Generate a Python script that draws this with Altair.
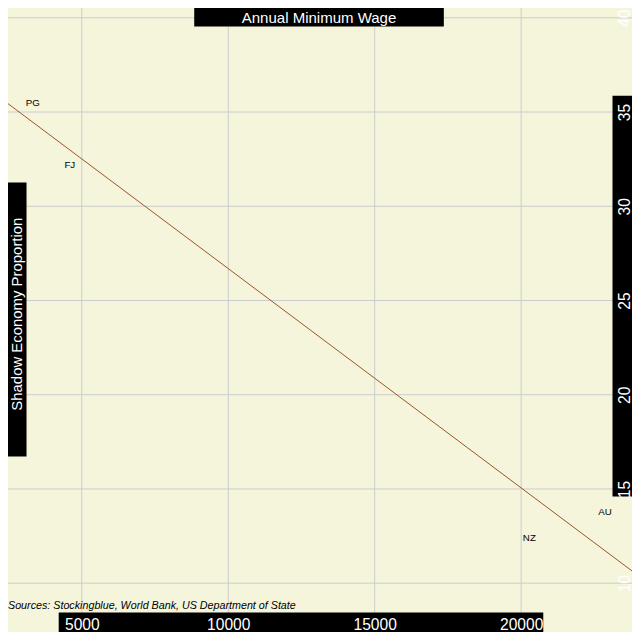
import altair as alt
import pandas as pd

# ---- data ----
countries = ["PG", "FJ", "NZ", "AU"]
annual_min_wage = [3330, 4590, 20280, 22860]
shadow_economy = [35.5, 32.2, 12.4, 13.8]
x_tick_values = [5000, 10000, 15000, 20000]
y_tick_values = [10, 15, 20, 25, 30, 35, 40]

df = pd.DataFrame({"country": countries, "wage": annual_min_wage, "shadow": shadow_economy})
xgrid = pd.DataFrame({"v": x_tick_values})
ygrid = pd.DataFrame({"v": y_tick_values})
one = pd.DataFrame({"k": [0]})

X_DOMAIN = [2480, 23785]
Y_DOMAIN = [7.41, 40.52]
xs = alt.Scale(domain=X_DOMAIN, nice=False, zero=False)
ys = alt.Scale(domain=Y_DOMAIN, nice=False, zero=False)

FONT = "Liberation Sans"
W = H = 624
S = W / 640.0
GRID = "#cccccc"

x_axis = alt.Axis(values=x_tick_values, format="d", title=None, grid=False, domain=False,
                  ticks=False, tickSize=0, labelColor="white", labelFont=FONT,
                  labelFontSize=16 * S, labelBaseline="alphabetic", labelAlign="center",
                  labelPadding=0, offset=-3 * S, labelFlush=False, labelOverlap=False, zindex=1)
y_axis = alt.Axis(orient="right", values=y_tick_values, title=None, grid=False, domain=False,
                  ticks=False, tickSize=0, labelColor="white", labelFont=FONT,
                  labelFontSize=16 * S, labelAngle=270, labelAlign="center",
                  labelBaseline="alphabetic", labelPadding=0, offset=-3 * S,
                  labelFlush=False, labelOverlap=False, zindex=1)

grid_v = alt.Chart(xgrid).mark_rule(color=GRID, strokeWidth=1).encode(
    x=alt.X("v:Q", scale=xs, axis=x_axis))
grid_h = alt.Chart(ygrid).mark_rule(color=GRID, strokeWidth=1).encode(
    y=alt.Y("v:Q", scale=ys, axis=y_axis))

reg = alt.Chart(df).transform_regression("wage", "shadow", extent=X_DOMAIN).mark_line(
    color="#a0522d", strokeWidth=1).encode(
    x=alt.X("wage:Q", scale=xs, axis=x_axis),
    y=alt.Y("shadow:Q", scale=ys, axis=y_axis))

labels = alt.Chart(df).mark_text(font=FONT, fontSize=10 * S, color="black").encode(
    x=alt.X("wage:Q", scale=xs, axis=x_axis),
    y=alt.Y("shadow:Q", scale=ys, axis=y_axis),
    text="country:N")


def box(x1, x2, y1, y2):
    return alt.Chart(one).mark_rect(color="black").encode(
        x=alt.value(x1 * S), x2=alt.value(x2 * S), y=alt.value(y1 * S), y2=alt.value(y2 * S))


title_box = box(191, 447, 0, 19)
ytitle_box = box(0, 19, 179, 460)
xaxis_box = box(52, 549, 620, 640)
yaxis_box = box(620, 640, 90, 501)

title = alt.Chart(one).mark_text(text="Annual Minimum Wage", font=FONT, fontSize=15.4 * S,
                                 color="white", align="center", baseline="alphabetic").encode(
    x=alt.value(319 * S), y=alt.value(15.5 * S))
ytitle = alt.Chart(one).mark_text(text="Shadow Economy Proportion", font=FONT, fontSize=15.3 * S,
                                  color="white", align="center", baseline="alphabetic",
                                  angle=270).encode(
    x=alt.value(14.5 * S), y=alt.value(314 * S))
sources = alt.Chart(one).mark_text(text="Sources: Stockingblue, World Bank, US Department of State",
                                   font=FONT, fontSize=11 * S, fontStyle="italic", color="black",
                                   align="left", baseline="alphabetic").encode(
    x=alt.value(0), y=alt.value(616.5 * S))

chart = alt.layer(
    grid_v, grid_h, reg, labels,
    title_box, ytitle_box, xaxis_box, yaxis_box,
    title, ytitle, sources,
).properties(
    width=W, height=H, autosize=alt.AutoSizeParams(type="none"), padding=0,
    background="#f5f5dc",
).configure_view(stroke=None)

chart.save("out.html", embed_options={"renderer": "svg", "actions": False})
